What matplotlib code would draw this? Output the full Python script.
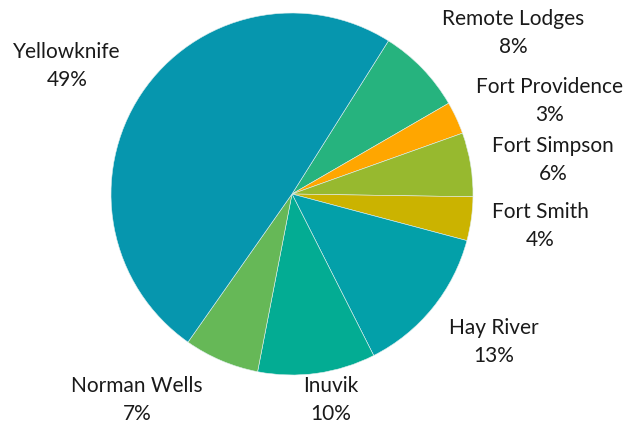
import matplotlib.pyplot as plt
import numpy as np

# share of total, clockwise from Remote Lodges
regions = ['Remote Lodges', 'Fort Providence', 'Fort Simpson', 'Fort Smith',
           'Hay River', 'Inuvik', 'Norman Wells', 'Yellowknife']
shares = [7.7, 2.9, 5.7, 3.9, 13.4, 10.5, 6.7, 49.2]
colors = ['#26B37E', '#FFA600', '#97B92F', '#CBB300',
          '#03A0A9', '#03AC93', '#66B857', '#0696AE']

# label block centres in pie-radius units
label_xy = [(1.221, 0.890), (1.425, 0.514), (1.442, 0.188), (1.370, -0.177),
            (1.116, -0.818), (0.215, -1.138), (-0.856, -1.138), (-1.243, 0.707)]

plt.rcParams['font.family'] = ['Lato', 'DejaVu Sans']

fig = plt.figure(figsize=(6.29, 4.28), dpi=100)
ax = fig.add_axes([0, 0, 1, 1])
ax.pie(shares, colors=colors, startangle=90 - 32.2, counterclock=False,
       radius=1.0, wedgeprops=dict(edgecolor='#dfeeee', linewidth=0.4))

total = sum(shares)
for name, val, (x, y) in zip(regions, shares, label_xy):
    ax.text(x, y, '%s\n%d%%' % (name, round(val / total * 100)),
            ha='center', va='center', fontsize=15, color='#1a1a1a',
            linespacing=1.45)

ax.set_xlim(-292 / 181, (629 - 292) / 181)
ax.set_ylim((194 - 428) / 181, 194 / 181)
ax.set_aspect('equal')
ax.axis('off')
fig.savefig('out.png', dpi=100)
